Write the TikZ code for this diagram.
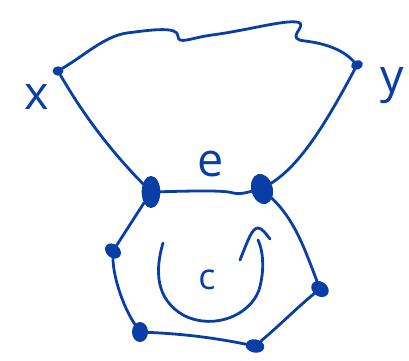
\documentclass[tikz,border=0pt]{standalone}
\usepackage{fontspec}
\setmainfont{Open Sans}
\usetikzlibrary{shapes.geometric}

\definecolor{inkblue}{RGB}{8,62,165}

\begin{document}
\begin{tikzpicture}[x=0.75pt,y=0.75pt,yscale=-1,xscale=1,
  ink/.style={draw=inkblue,line width=2.1pt,line cap=round,line join=round},
  vtx/.style={ellipse,fill=inkblue,draw=inkblue,line width=1pt,inner sep=0pt},
  lbl/.style={text=inkblue,inner sep=0pt,font=\fontsize{35}{35}\selectfont}]
\useasboundingbox (0,0) rectangle (409,360);

% Vertices
\node [vtx,minimum width=7pt,minimum height=6pt] (vx) at (58,71) {};
\node [vtx,minimum width=8pt,minimum height=6pt,rotate=20] (vy) at (357,65) {};
\node [vtx,minimum width=13pt,minimum height=23pt] (vl) at (151,192) {};
\node [vtx,minimum width=15pt,minimum height=22pt,rotate=15] (vr) at (262,189) {};
\node [vtx,minimum width=12pt,minimum height=9pt,rotate=-40] (vlm) at (113,251) {};
\node [vtx,minimum width=11pt,minimum height=14pt] (vbl) at (140,332) {};
\node [vtx,minimum width=13pt,minimum height=9pt,rotate=-10] (vbr) at (255,346) {};
\node [vtx,minimum width=13pt,minimum height=10pt,rotate=-35] (vrt) at (320,289) {};

% Text Node
\node [lbl] (tx) at (37,97) {x};
\node [lbl] (ty) at (392,86) {y};
\node [lbl] (te) at (211,164) {e};
\node [lbl,font=\fontsize{27}{27}\selectfont] (tc) at (207,280) {c};

% Edges
\draw [ink] (vx) .. controls (85,55) and (105,36) .. (127,33) .. controls (150,30) and (178,26) .. (178,36) .. controls (178,45) and (190,38) .. (212,35) .. controls (250,30) and (290,18) .. (300,23) .. controls (305,28) and (285,39) .. (305,41) .. controls (330,44) and (345,52) .. (vy);
\draw [ink] (vx) .. controls (75,100) and (100,140) .. (vl);
\draw [ink] (vl) .. controls (190,191) and (225,190) .. (233,193) .. controls (240,195) and (248,192) .. (vr);
\draw [ink] (vr) .. controls (300,165) and (325,125) .. (vy);
\draw [ink] (vl) -- (vlm);
\draw [ink] (vlm) .. controls (113,275) and (122,305) .. (vbl);
\draw [ink] (vbl) .. controls (185,334) and (215,338) .. (vbr);
\draw [ink] (vbr) .. controls (280,325) and (300,305) .. (vrt);
\draw [ink] (vrt) .. controls (305,250) and (295,220) .. (vr);

%Shape: Arc arrow
\draw [ink] (163,243) .. controls (155,270) and (155,300) .. (185,316) .. controls (215,330) and (250,315) .. (259,290) .. controls (265,270) and (263,250) .. (258,240);
\draw [ink] (240,260) .. controls (248,240) and (252,228) .. (258,228) .. controls (262,228) and (266,234) .. (270,239);

\end{tikzpicture}
\end{document}
